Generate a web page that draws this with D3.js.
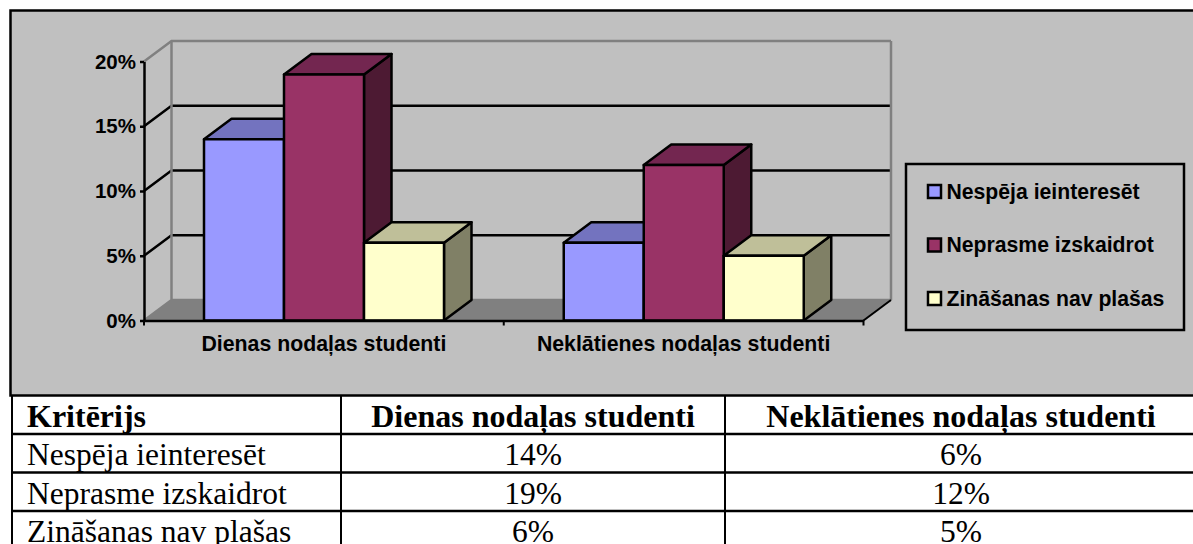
<!DOCTYPE html>
<html>
<head>
<meta charset="utf-8">
<script src="https://cdn.jsdelivr.net/npm/d3@7"></script>
<style>
  html, body { margin: 0; padding: 0; background: #fff; overflow: hidden; }
  svg { display: block; }
</style>
</head>
<body>
<div id="chart"></div>
<script>
const categories = ["Dienas nodaļas studenti", "Neklātienes nodaļas studenti"];
const seriesNames = ["Nespēja ieinteresēt", "Neprasme izskaidrot", "Zināšanas nav plašas"];
const dayValues = [14, 19, 6];
const extramuralValues = [6, 12, 5];
const yTicks = [0, 5, 10, 15, 20];
const frontColors = ["#9999ff", "#993366", "#ffffcc"];
const topColors = ["#7373bf", "#732650", "#bfbf99"];
const sideColors = ["#4d4d80", "#4d1a33", "#808066"];
const tableHeader = ["Kritērijs", "Dienas nodaļas studenti", "Neklātienes nodaļas studenti"];

const width = 1193;
const height = 544;
const depthX = 27.5; //3d offset of the walls
const depthY = -20.5;
const sansBold = "'Liberation Sans', Arial, sans-serif";
const serif = "'Liberation Serif', 'Times New Roman', serif";

const svg = d3.select("#chart").append("svg")
  .attr("width", width)
  .attr("height", height);

//chart frame, the right side runs off the page
svg.append("rect")
  .attr("x", 10.5).attr("y", 10.5)
  .attr("width", width).attr("height", 385)
  .attr("fill", "#c0c0c0")
  .attr("stroke", "#000")
  .attr("stroke-width", 2.5);

const y = d3.scaleLinear().domain([0, 20]).range([320.5, 61.5]);
const x0 = d3.scaleBand().domain(categories).range([144, 863.5]);
const x1 = d3.scaleBand().domain(seriesNames).range([60, 300]);

const chart = svg.append("g");
const line = d3.line();

//floor
chart.append("path")
  .attr("d", line([
    [x0.range()[0], y(0)],
    [x0.range()[0] + depthX, y(0) + depthY],
    [x0.range()[1] + depthX, y(0) + depthY],
    [x0.range()[1], y(0)]
  ]) + "Z")
  .attr("fill", "#808080");

//gridlines across the side and back walls
yTicks.filter((t) => t > 0).forEach((t) => {
  const color = t === 20 ? "#808080" : "#000";
  chart.append("path")
    .attr("d", line([
      [x0.range()[0], y(t)],
      [x0.range()[0] + depthX, y(t) + depthY],
      [x0.range()[1] + depthX, y(t) + depthY]
    ]))
    .attr("fill", "none")
    .attr("stroke", color)
    .attr("stroke-width", 2.5);
});

//wall edges
chart.append("path")
  .attr("d", line([
    [x0.range()[0] + depthX, y(20) + depthY],
    [x0.range()[0] + depthX, y(0) + depthY],
    [x0.range()[0], y(0)]
  ]))
  .attr("fill", "none").attr("stroke", "#808080").attr("stroke-width", 2.5);
chart.append("path")
  .attr("d", line([
    [x0.range()[1] + depthX, y(20) + depthY],
    [x0.range()[1] + depthX, y(0) + depthY]
  ]))
  .attr("fill", "none").attr("stroke", "#808080").attr("stroke-width", 2.5);
chart.append("path")
  .attr("d", line([
    [x0.range()[0] + depthX, y(0) + depthY],
    [x0.range()[1] + depthX, y(0) + depthY]
  ]))
  .attr("fill", "none").attr("stroke", "#808080").attr("stroke-width", 2.5);
chart.append("path")
  .attr("d", line([
    [x0.range()[1], y(0)],
    [x0.range()[1] + depthX, y(0) + depthY]
  ]))
  .attr("fill", "none").attr("stroke", "#000").attr("stroke-width", 2);

//bars, drawn left to right so later ones cover earlier sides
[dayValues, extramuralValues].forEach((values, c) => {
  const group = chart.append("g")
    .attr("transform", `translate(${x0(categories[c])},0)`);
  seriesNames.forEach((name, i) => {
    const left = x1(name);
    const right = left + x1.bandwidth();
    const top = y(values[i]);
    const base = y(0);
    const faces = [
      { fill: sideColors[i], pts: [[right, top], [right + depthX, top + depthY], [right + depthX, base + depthY], [right, base]] },
      { fill: topColors[i], pts: [[left, top], [left + depthX, top + depthY], [right + depthX, top + depthY], [right, top]] },
      { fill: frontColors[i], pts: [[left, top], [right, top], [right, base], [left, base]] }
    ];
    group.selectAll(null)
      .data(faces)
      .join("path")
      .attr("d", (d) => line(d.pts) + "Z")
      .attr("fill", (d) => d.fill)
      .attr("stroke", "#000")
      .attr("stroke-width", 2.5)
      .attr("stroke-linejoin", "round");
  });
});

//value axis
const yAxis = chart.append("g")
  .attr("transform", `translate(${x0.range()[0]},0)`)
  .call(d3.axisLeft(y).tickValues(yTicks).tickFormat((d) => d + "%").tickSize(4).tickSizeOuter(0).tickPadding(4));
yAxis.selectAll("line, path").attr("stroke", "#000").attr("stroke-width", 2.5);
yAxis.selectAll("text")
  .attr("fill", "#000")
  .style("font", `bold 20.5px ${sansBold}`);

//category axis
const xAxis = chart.append("g")
  .attr("transform", `translate(0,${y(0)})`)
  .call(d3.axisBottom(x0).tickSize(0).tickPadding(15));
xAxis.select("path").attr("stroke", "#000").attr("stroke-width", 2.5);
xAxis.selectAll("text")
  .attr("fill", "#000")
  .style("font", `bold 21.3px ${sansBold}`);
const catEdges = [x0.range()[0], x0(categories[1]), x0.range()[1]];
xAxis.selectAll(null)
  .data(catEdges)
  .join("line")
  .attr("x1", (d) => d).attr("x2", (d) => d)
  .attr("y1", 0).attr("y2", 5)
  .attr("stroke", "#000").attr("stroke-width", 2);

//legend
const legendY = d3.scalePoint().domain(seriesNames).range([191.5, 298.5]);
const legend = svg.append("g");
legend.append("rect")
  .attr("x", 906).attr("y", 164)
  .attr("width", 278).attr("height", 166)
  .attr("fill", "none").attr("stroke", "#000").attr("stroke-width", 2.5);
seriesNames.forEach((name, i) => {
  legend.append("rect")
    .attr("x", 928).attr("y", legendY(name) - 6.5)
    .attr("width", 13).attr("height", 13)
    .attr("fill", frontColors[i])
    .attr("stroke", "#000").attr("stroke-width", 2.5);
  legend.append("text")
    .attr("x", 946.5).attr("y", legendY(name) + 7)
    .attr("fill", "#000")
    .style("font", `bold 21.2px ${sansBold}`)
    .text(name);
});

//table under the chart, the last column runs off the page
const colEdges = [12, 341, 725, 1197];
const rowEdges = [396, 434, 472.5, 511];
const rows = seriesNames.map((name, i) => [name, dayValues[i] + "%", extramuralValues[i] + "%"]);
const table = svg.append("g");
rowEdges.slice(1).forEach((ry) => {
  table.append("line")
    .attr("x1", colEdges[0]).attr("x2", colEdges[3])
    .attr("y1", ry).attr("y2", ry)
    .attr("stroke", "#000").attr("stroke-width", 2.5);
});
colEdges.forEach((cx) => {
  table.append("line")
    .attr("x1", cx).attr("x2", cx)
    .attr("y1", 396).attr("y2", height)
    .attr("stroke", "#000").attr("stroke-width", 2);
});
tableHeader.forEach((label, c) => {
  table.append("text")
    .attr("x", c === 0 ? 27 : (colEdges[c] + colEdges[c + 1]) / 2)
    .attr("y", 427)
    .attr("text-anchor", c === 0 ? "start" : "middle")
    .attr("fill", "#000")
    .style("font", `bold 32px ${serif}`)
    .text(label);
});
rows.forEach((row, r) => {
  row.forEach((cell, c) => {
    table.append("text")
      .attr("x", c === 0 ? 27 : (colEdges[c] + colEdges[c + 1]) / 2)
      .attr("y", rowEdges[r + 1] + 31)
      .attr("text-anchor", c === 0 ? "start" : "middle")
      .attr("fill", "#000")
      .style("font", `31.5px ${serif}`)
      .text(cell);
  });
});
</script>
</body>
</html>
